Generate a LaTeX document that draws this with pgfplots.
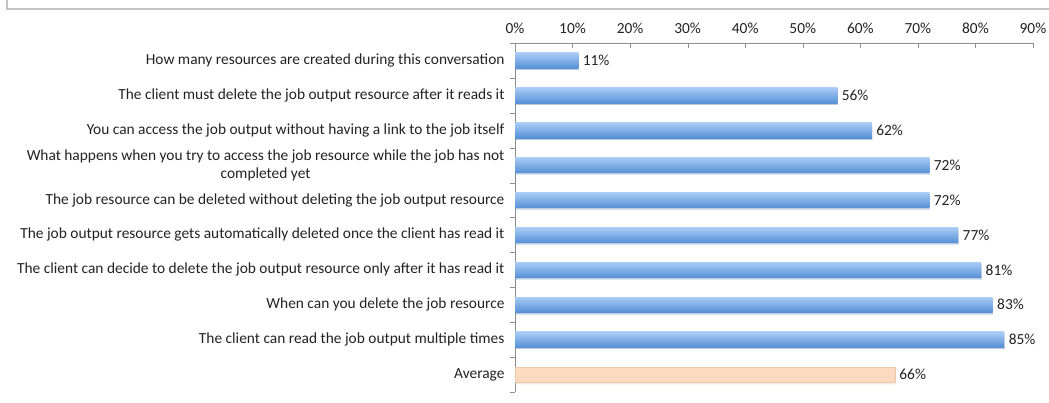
\documentclass[border=0pt]{standalone}
\usepackage{pgfplots}
\pgfplotsset{compat=1.18}
\usepackage{fontspec}
\setmainfont{Carlito}
\usetikzlibrary{shadows}
\definecolor{bluetop}{HTML}{AACCF6}
\definecolor{bluebot}{HTML}{5690D7}
\definecolor{peach}{HTML}{FBDBBF}
\definecolor{peachedge}{HTML}{EFC9A6}
\definecolor{axisgray}{HTML}{8C8C8C}
\definecolor{framegray}{HTML}{C4C4C4}
\definecolor{txt}{HTML}{222222}
\begin{document}
\begin{tikzpicture}[x=1pt,y=1pt]
\path[use as bounding box] (0,0) rectangle (1049,402);
\draw[framegray, line width=1.2pt] (7,402) -- (7,393) -- (1049,393);
\begin{axis}[
  at={(515pt,10pt)}, anchor=south west,
  scale only axis, width=518pt, height=349pt,
  xmin=0, xmax=90,
  ymin=-0.5, ymax=9.5, y dir=reverse,
  axis x line*=top, axis y line*=left,
  axis line style={axisgray, -},
  xtick={0,10,...,90},
  xticklabel={\pgfmathprintnumber{\tick}\%},
  xtick align=inside,
  major tick length=5pt,
  x tick style={axisgray},
  ytick={0,...,9},
  y tick style={draw=none},
  minor ytick={-0.5,0.5,...,9.5},
  minor y tick style={axisgray, draw=axisgray},
  minor tick length=5pt,
  ytick align=outside,
  /pgf/number format/assume math mode=true,
  tick label style={font=\fontsize{15.4}{17.5}\selectfont, text=txt},
  yticklabel style={align=center, xshift=-2pt},
  xticklabel style={yshift=6pt},
  yticklabels={
    How many resources are created during this conversation,
    The client must delete the job output resource after it reads it,
    You can access the job output without having a link to the job itself,
    {What happens when you try to access the job resource while the job has not\\completed yet},
    The job resource can be deleted without deleting the job output resource,
    The job output resource gets automatically deleted once the client has read it,
    The client can decide to delete the job output resource only after it has read it,
    When can you delete the job resource,
    The client can read the job output multiple times,
    Average},
  clip=false,
  point meta=x,
  nodes near coords={\pgfmathprintnumber{\pgfplotspointmeta}\%},
  nodes near coords style={font=\fontsize{15.4}{17.5}\selectfont, text=txt, anchor=west, xshift=1pt},
  bbar/.style={xbar, bar width=15.5pt, bar shift=0pt, draw=none,
    top color=bluetop, bottom color=bluebot,
    drop shadow={shadow xshift=0.5pt, shadow yshift=-1.5pt, opacity=0.25}},
]
\addplot[bbar] coordinates {(11,0)};
\addplot[bbar] coordinates {(56,1)};
\addplot[bbar] coordinates {(62,2)};
\addplot[bbar] coordinates {(72,3)};
\addplot[bbar] coordinates {(72,4)};
\addplot[bbar] coordinates {(77,5)};
\addplot[bbar] coordinates {(81,6)};
\addplot[bbar] coordinates {(83,7)};
\addplot[bbar] coordinates {(85,8)};
\addplot[xbar, bar width=15.5pt, bar shift=0pt, draw=peachedge, fill=peach,
  drop shadow={shadow xshift=0.5pt, shadow yshift=-1.5pt, opacity=0.15}]
  coordinates {(66,9)};
\end{axis}
\end{tikzpicture}
\end{document}
